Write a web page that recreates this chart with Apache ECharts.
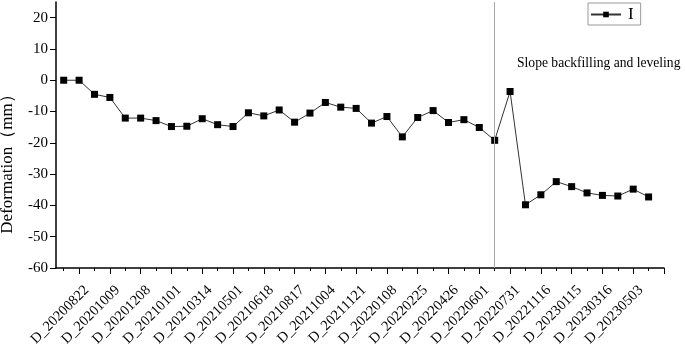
<!DOCTYPE html>
<html>
<head>
<meta charset="utf-8">
<script src="https://cdn.jsdelivr.net/npm/echarts@6/dist/echarts.min.js"></script>
<style>html,body{margin:0;padding:0;background:#fff}#c{width:685px;height:349px}</style>
</head>
<body>
<div id="c"></div>
<script>
// Tick labels shown on the x axis (every other observation)
var tickLabels = ['D_20200822','D_20201009','D_20201208','D_20210101','D_20210314','D_20210501',
  'D_20210618','D_20210817','D_20211004','D_20211121','D_20220108','D_20220225','D_20220426',
  'D_20220601','D_20220731','D_20221116','D_20230115','D_20230316','D_20230503'];
// Deformation values of series I (mm), one per observation (39)
var seriesI = [0, 0, -4.5, -5.5, -12.1, -12.1, -12.9, -14.8, -14.7, -12.3, -14.2, -14.8, -10.4,
  -11.4, -9.5, -13.4, -10.5, -7.1, -8.6, -9.0, -13.7, -11.6, -18.1, -11.9, -9.7, -13.5, -12.6,
  -15.1, -19.2, -3.6, -39.8, -36.6, -32.4, -34.0, -36.0, -36.8, -37.0, -34.8, -37.3];
var eventIndex = 28; // observation where the vertical marker sits
var eventText = 'Slope backfilling and leveling';
var yTicks = {min: -60, max: 25, interval: 10};

// half-step category positions: observation i sits at 2*i+1, axis runs 0..2*N+1
var N = seriesI.length;
var cats = [];
for (var h = 0; h <= 2 * N + 1; h++) cats.push('h' + h);
var labelMap = {};
tickLabels.forEach(function (t, k) { labelMap[2 * (2 * k + 1) + 1] = t; });
var data = seriesI.map(function (v, i) { return [2 * i + 1, v]; });

var font = 'Liberation Serif, Times New Roman, serif';
var chart = echarts.init(document.getElementById('c'), null, {renderer: 'canvas'});
chart.setOption({
  animation: false,
  grid: {left: 56, right: 21, top: 2, bottom: 81, containLabel: false, outerBoundsMode: 'none'},
  legend: {
    data: ['I'], left: 588, top: 3, itemWidth: 30, itemHeight: 7, itemGap: 4,
    borderColor: '#999', borderWidth: 1, padding: [3, 7, 2, 2], borderRadius: 0,
    textStyle: {fontFamily: font, fontSize: 17, color: '#000', padding: [0, 0, 0, 2]}
  },
  xAxis: [{
    type: 'category', data: cats, boundaryGap: false,
    axisLine: {onZero: false, lineStyle: {color: '#000', width: 1.5}},
    axisTick: {length: 3, interval: function (idx) { return idx % 2 === 1; }, lineStyle: {color: '#000', width: 1}},
    axisLabel: {show: false}, splitLine: {show: false}
  }, {
    type: 'category', data: cats, boundaryGap: false, position: 'bottom',
    axisLine: {show: false, onZero: false},
    axisTick: {length: 6, interval: function (idx) { return idx % 4 === 3; }, lineStyle: {color: '#000', width: 1}},
    axisLabel: {show: false},
    splitLine: {show: false}
  }, {
    // label carrier: drawn half a step to the right, as in the reference's rotated labels
    type: 'category', data: cats, boundaryGap: false, position: 'bottom', min: -1, max: 2 * N,
    axisLine: {show: false, onZero: false}, axisTick: {show: false},
    axisLabel: {
      interval: 0, rotate: 45, margin: 20, fontFamily: font, fontSize: 14.5, color: '#000',
      formatter: function (v, idx) { return labelMap[cats.indexOf(v)] || ''; }
    },
    splitLine: {show: false}
  }],
  yAxis: {
    type: 'value', min: yTicks.min, max: yTicks.max, interval: yTicks.interval,
    name: 'Deformation（mm）', nameLocation: 'middle', nameGap: 40,
    nameTextStyle: {fontFamily: font, fontSize: 17, color: '#000', padding: [0, 50, 0, 0]},
    axisLine: {show: true, onZero: false, lineStyle: {color: '#000', width: 1.5}},
    axisTick: {show: true, inside: false, length: 6, lineStyle: {color: '#000'}},
    axisLabel: {fontFamily: font, fontSize: 15, color: '#000', margin: 8, showMaxLabel: false,
      formatter: function (v) { return v % 10 === 0 ? String(v) : ''; }},
    splitLine: {show: false}
  },
  series: [{
    name: 'I', type: 'line', xAxisIndex: 0, data: data, showAllSymbol: true,
    symbol: 'rect', symbolSize: 7, itemStyle: {color: '#000'},
    lineStyle: {color: '#333', width: 1},
    markLine: {
      silent: true, symbol: 'none', label: {show: false},
      lineStyle: {color: '#aaa', width: 1, type: 'solid'},
      data: [{xAxis: 2 * eventIndex + 1}]
    }
  }],
  graphic: [{
    type: 'text', left: 517, top: 56,
    style: {text: eventText, fontFamily: font, fontSize: 13.6, fill: '#000'}
  }]
});
</script>
</body>
</html>
